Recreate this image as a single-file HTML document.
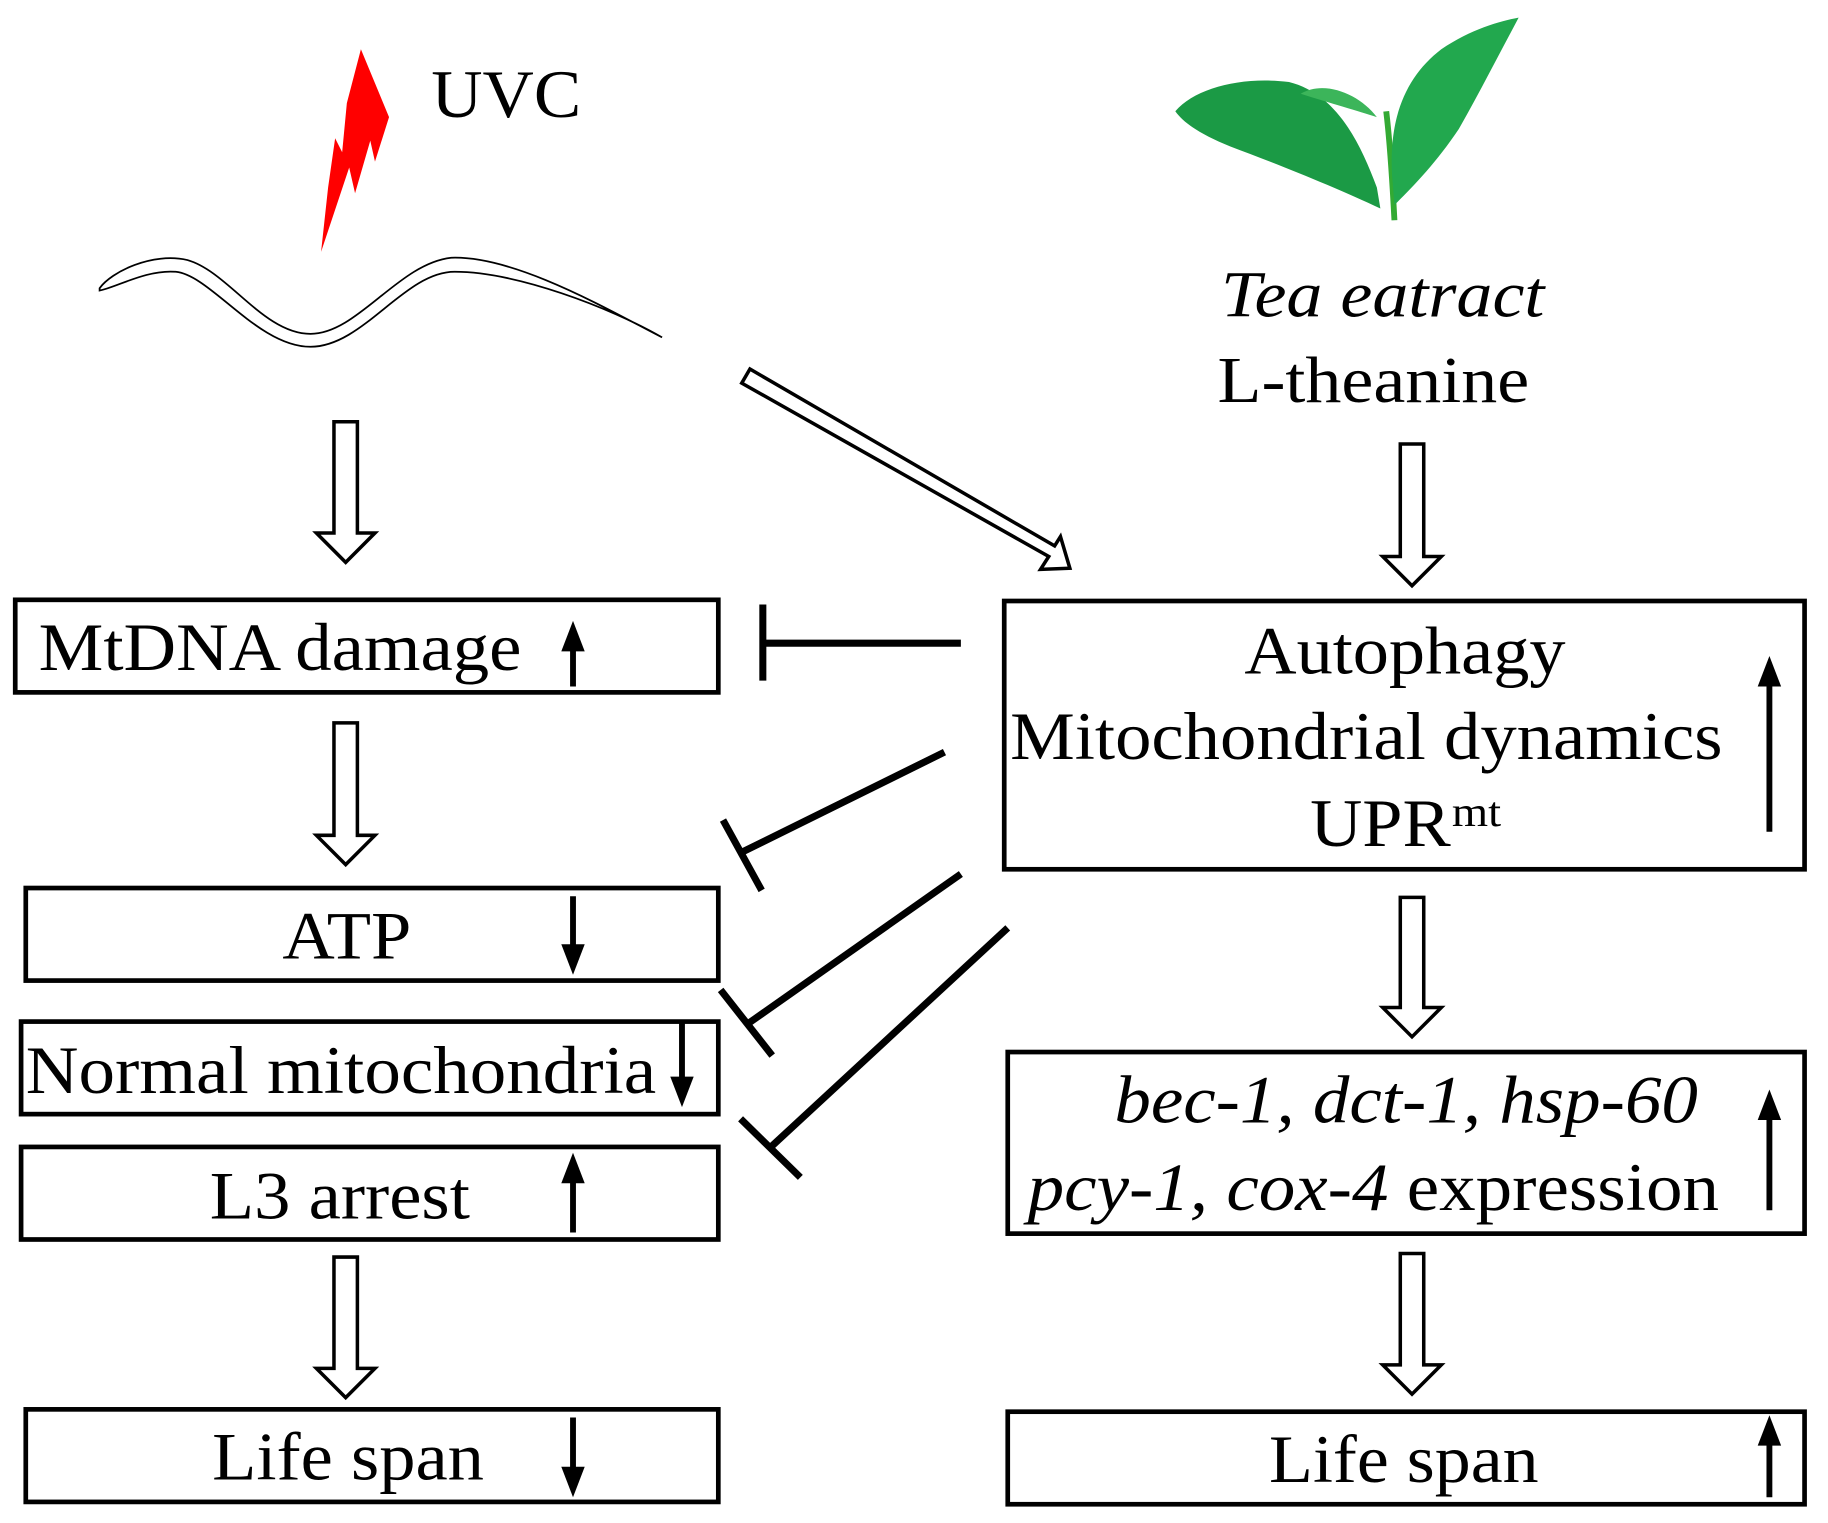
<!DOCTYPE html>
<html><head><meta charset="utf-8"><style>html,body{margin:0;padding:0;background:#fff}svg{display:block}svg text{font-family:"Liberation Serif","Times New Roman",Times,serif}</style></head>
<body>
<svg width="1828" height="1523" viewBox="0 0 1560 1300" preserveAspectRatio="none" xmlns="http://www.w3.org/2000/svg">
<!-- lightning -->
<polygon points="308,42 332,100 320,138 316,120 303,165 298,143 274,215 280,160 286,118 292,130 296,88" fill="#f00"/>
<text x="368" y="100" font-size="58" textLength="128" lengthAdjust="spacingAndGlyphs">UVC</text>
<!-- worm -->
<path d="M85,246 C95,232 130,215 160,222 C195,232 225,285 265,285 C305,285 340,225 385,220 C440,218 520,265 565,288 C520,262 440,232 388,232 C345,232 310,296 265,296 C220,296 180,235 150,232 C125,230 100,245 85,248 Z" fill="none" stroke="#000" stroke-width="1.5"/>
<!-- tea leaf -->
<path d="M1190,188 C1188,150 1186,120 1183,95" stroke="#3a3" stroke-width="5" fill="none"/>
<path d="M1003,95 C1020,75 1060,65 1100,70 C1140,80 1160,120 1175,160 L1178,178 C1140,160 1090,140 1050,125 C1025,115 1010,105 1003,95 Z" fill="#1b9a45"/>
<path d="M1188,150 C1185,100 1200,65 1230,42 C1255,25 1280,18 1296,15 C1280,45 1262,80 1245,110 C1225,140 1205,160 1190,175 Z" fill="#22a84e"/>
<path d="M1110,80 C1130,68 1160,80 1175,100 C1160,95 1135,88 1110,80 Z" fill="#3cb55a"/>
<text x="1180" y="270" font-size="56" font-style="italic" text-anchor="middle" textLength="276" lengthAdjust="spacingAndGlyphs">Tea eatract</text>
<text x="1172" y="343" font-size="56" text-anchor="middle" textLength="266" lengthAdjust="spacingAndGlyphs">L-theanine</text>
<!-- hollow arrows -->
<g fill="#fff" stroke="#000" stroke-width="3">
<polygon points="285,360 305,360 305,455 320,455 295,480 270,455 285,455"/>
<polygon points="285,617 305,617 305,713 320,713 295,738 270,713 285,713"/>
<polygon points="285,1073 305,1073 305,1168 320,1168 295,1193 270,1168 285,1168"/>
<polygon points="1195,379 1215,379 1215,475 1230,475 1205,500 1180,475 1195,475"/>
<polygon points="1195,766 1215,766 1215,860 1230,860 1205,885 1180,860 1195,860"/>
<polygon points="1195,1070 1215,1070 1215,1165 1230,1165 1205,1190 1180,1165 1195,1165"/>
<polygon points="640,315 633,327 895,475 888,486 913,485 905,458 900,466"/>
</g>
<!-- boxes -->
<g fill="none" stroke="#000" stroke-width="4">
<rect x="13" y="512" width="600" height="79"/>
<rect x="22" y="758" width="591" height="79"/>
<rect x="18" y="872" width="595" height="79"/>
<rect x="18" y="979" width="595" height="79"/>
<rect x="22" y="1203" width="591" height="79"/>
<rect x="857" y="513" width="683" height="229"/>
<rect x="860" y="898" width="680" height="155"/>
<rect x="860" y="1205" width="680" height="79"/>
</g>
<g font-size="58">
<text x="33" y="572" textLength="412" lengthAdjust="spacingAndGlyphs">MtDNA damage</text>
<text x="296" y="818" text-anchor="middle" textLength="110" lengthAdjust="spacingAndGlyphs">ATP</text>
<text x="22" y="933" textLength="538" lengthAdjust="spacingAndGlyphs">Normal mitochondria</text>
<text x="290" y="1040" text-anchor="middle" textLength="222" lengthAdjust="spacingAndGlyphs">L3 arrest</text>
<text x="297" y="1263" text-anchor="middle" textLength="232" lengthAdjust="spacingAndGlyphs">Life span</text>
<text x="1199" y="575" text-anchor="middle" textLength="274" lengthAdjust="spacingAndGlyphs">Autophagy</text>
<text x="1166" y="648" text-anchor="middle" textLength="608" lengthAdjust="spacingAndGlyphs">Mitochondrial dynamics</text>
<text x="1118" y="722" textLength="120" lengthAdjust="spacingAndGlyphs">UPR</text><text x="1239" y="705" font-size="36" textLength="42" lengthAdjust="spacingAndGlyphs">mt</text>
<text x="1200" y="958" text-anchor="middle" font-style="italic" textLength="498" lengthAdjust="spacingAndGlyphs">bec-1, dct-1, hsp-60</text>
<text x="877" y="1033" textLength="590" lengthAdjust="spacingAndGlyphs"><tspan font-style="italic">pcy-1, cox-4</tspan> expression</text>
<text x="1198" y="1265" text-anchor="middle" textLength="230" lengthAdjust="spacingAndGlyphs">Life span</text>
</g>
<!-- small arrows -->
<g stroke="#000" stroke-width="5">
<line x1="489" y1="586" x2="489" y2="550"/>
<line x1="489" y1="765" x2="489" y2="810"/>
<line x1="582" y1="873" x2="582" y2="925"/>
<line x1="489" y1="1052" x2="489" y2="1004"/>
<line x1="489" y1="1210" x2="489" y2="1258"/>
<line x1="1510" y1="710" x2="1510" y2="580"/>
<line x1="1510" y1="1033" x2="1510" y2="950"/>
<line x1="1510" y1="1278" x2="1510" y2="1228"/>
</g>
<g fill="#000">
<polygon points="489,530 479,556 499,556"/>
<polygon points="489,832 479,806 499,806"/>
<polygon points="582,945 572,919 592,919"/>
<polygon points="489,984 479,1010 499,1010"/>
<polygon points="489,1278 479,1252 499,1252"/>
<polygon points="1510,560 1500,586 1520,586"/>
<polygon points="1510,930 1500,956 1520,956"/>
<polygon points="1510,1208 1500,1234 1520,1234"/>
</g>
<!-- inhibitors -->
<g stroke="#000" stroke-width="6" fill="none">
<line x1="820" y1="549" x2="651" y2="549"/><line x1="651" y1="516" x2="651" y2="581"/>
<line x1="806" y1="642" x2="634" y2="727"/><line x1="617" y1="700" x2="650" y2="760"/>
<line x1="820" y1="746" x2="638" y2="874"/><line x1="615" y1="845" x2="659" y2="901"/>
<line x1="860" y1="792" x2="659" y2="978"/><line x1="632" y1="955" x2="683" y2="1005"/>
</g>
</svg>
</body></html>
